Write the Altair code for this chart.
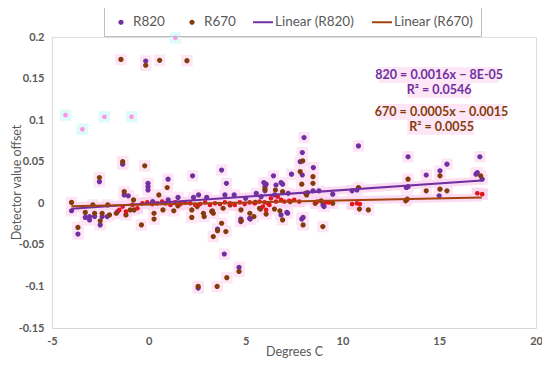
import altair as alt
import pandas as pd

# ---------------- data ----------------
r820_x = [-0.16, 8.02, 7.93, 7.82, 8.5, 7.37, 7.93, 8.48, 10.83, 6.44, 6.83, 6.91, 6.57, 6.06,
          8.79, 10.5, 10.75, 7.9, 7.97, 7.13, 9.0, 9.05,
          13.39, 17.1, 15.4, 15.04, 14.33, 16.97, 16.9, 17.22, 13.3, 13.39, 15.0,
          0.995, 2.26, 3.76, 4.01, 1.51, 2.31, 2.57, 2.99, 3.93, 4.41, 5.55, 5.94, 6.0, 6.0,
          5.24, 3.55, 3.9, 4.66, 2.55,
          -1.35, -2.55, -0.04, -0.04, -0.04, -1.27, -1.06, -3.99, -3.28, -3.06, -3.06, -2.8,
          -2.51, -2.41, -2.15, -1.61, -3.66,
          0.2, 1.0, 5.0, 5.8, 6.5, 7.2, 8.2, 9.5, 5.21, 4.75, 4.75, 7.17, 6.83]
r820_y = [0.171, 0.079, 0.061, 0.050, 0.043, 0.035, 0.034, 0.015, 0.069, 0.033, 0.025, 0.023, 0.022, 0.023,
          0.015, 0.015, 0.016, -0.019, -0.017, -0.011, -0.002, -0.004,
          0.056, 0.056, 0.047, 0.039, 0.034, 0.037, 0.035, 0.029, 0.019, 0.020, 0.009,
          0.029, 0.033, 0.040, 0.024, 0.007, 0.007, 0.010, 0.007, 0.010, 0.010, 0.012, 0.025, 0.020, 0.015,
          -0.019, -0.031, -0.061, -0.077, -0.102,
          0.047, 0.026, 0.024, 0.020, 0.016, 0.010, 0.009, -0.009, -0.017, -0.016, -0.020, -0.016,
          -0.026, -0.016, -0.016, -0.010, -0.037,
          0.002, 0.004, 0.006, 0.008, 0.010, 0.012, 0.013, 0.011, -0.018, -0.019, -0.022, -0.012, -0.014]

r670_x = [-1.44, -0.16, 0.56, 1.97,
          7.95, 7.82, 7.9, 8.48, 8.48, 10.83, 6.54, 6.91, 10.88, 11.34, 7.97, 8.99, 6.91, 6.77, 6.06,
          8.1, 8.15, 8.6, 9.5,
          15.04, 13.39, 17.14, 14.33, 15.04, 15.4, 13.27, 13.35,
          0.95, 0.52, 0.73, 1.29, 2.22, 2.22, 2.82, 2.86, 3.28, 3.84, 4.76, 4.78, 5.22, 5.43, 5.72,
          3.76, 3.55, 3.98, 3.33, 4.66, 2.55, 3.53, 4.03,
          -1.35, -0.21, -2.55, -1.27, -0.79, -3.99, -2.89, -2.12, -3.28, -2.8, -2.51, -2.41, -2.03,
          -1.68, -1.18, -3.66, -0.38, 0.27, 0.27, -0.76, -0.96,
          1.63, 3.25, 3.33, 5.77, 6.49, 6.0, 1.5, 2.5, 4.2, 5.5, 7.3, 8.9]
r670_y = [0.173, 0.166, 0.172, 0.1715,
          0.051, 0.038, 0.023, 0.032, 0.024, 0.019, 0.016, 0.014, -0.007, -0.008, -0.026, -0.028, -0.020, -0.009, -0.013,
          0.012, 0.010, 0.0, 0.0,
          0.033, 0.029, 0.033, 0.015, 0.017, 0.015, 0.003, 0.005,
          0.019, 0.010, -0.008, -0.009, -0.008, -0.017, -0.012, -0.016, -0.009, -0.006, -0.008, -0.021, -0.012, -0.016, -0.006,
          -0.024, -0.033, -0.034, -0.040, -0.082, -0.100, -0.100, -0.0895,
          0.050, 0.045, 0.031, 0.014, 0.004, 0.001, -0.002, -0.002, -0.011, -0.012, -0.021, -0.012, -0.014,
          -0.012, -0.014, -0.029, -0.026, -0.012, -0.019, -0.008, -0.008,
          0.0, -0.010, -0.012, -0.007, -0.007, 0.017, -0.003, -0.004, -0.002, 0.001, 0.002, 0.003]

# bright red markers crowded along the R670 trendline
red_x = [0.69, 0.86, 1.12, 1.37, 1.63, 1.89, 2.14, 2.4, 2.65, 2.91, 3.16, 3.42, 3.68, 3.93, 4.19,
         4.44, 4.7, 4.95, 5.21, 5.47, 5.72, 5.98,
         -1.52, -1.35, -1.18, -0.84, -0.59, -0.33, -0.08, 0.18, 0.43,
         6.15, 6.31, 6.57, 6.83, 7.0, 7.25, 7.51, 7.77, 5.89, 6.06, 6.23, 6.66, 8.7, 9.13, 9.3,
         10.5, 10.75, 10.9, 16.97, 17.22]
red_y = [0.002, 0.0, -0.002, 0.001, -0.001, 0.001, 0.0, -0.002, -0.001, 0.001, -0.002, 0.0, -0.001, 0.001, 0.0,
         -0.002, 0.001, -0.001, 0.001, 0.0, 0.002, 0.001,
         -0.008, -0.004, -0.010, -0.002, -0.006, 0.0, 0.001, -0.001, 0.0,
         0.0, 0.006, 0.002, 0.004, 0.002, 0.003, 0.004, 0.002, -0.004, -0.008, -0.002, 0.008, 0.002, 0.001, 0.001,
         -0.001, 0.0, -0.001, 0.012, 0.011]

# faint pink ghost markers
ghost_x = [-4.3, -2.29, -0.89, -3.43, 1.37]
ghost_y = [0.106, 0.104, 0.104, 0.089, 0.199]

# trendlines (from the printed equations)
trend_names = ["Linear (R820)", "Linear (R670)"]
trend_slope = [0.0016, 0.0005]
trend_icpt = [-0.00008, -0.0015]
trend_xrange = [-4.0, 17.2]

eq_text = ["820 = 0.0016x − 8E-05", "R² = 0.0546", "670 = 0.0005x − 0.0015", "R² = 0.0055"]
eq_x = [15.0, 15.0, 15.12, 15.12]
eq_y = [0.1543, 0.1363, 0.110, 0.092]
eq_color = ["#7030A0", "#7030A0", "#843C0C", "#843C0C"]
eq_x1 = [11.9, 13.35, 11.85, 13.35]
eq_x2 = [18.05, 16.65, 18.35, 16.8]

series_names = ["R820", "R670", "Linear (R820)", "Linear (R670)"]
series_colors = ["#7030A0", "#843C0C", "#7030A0", "#A3440F"]

# ---------------- build tables ----------------
pts = pd.DataFrame({
    "x": r820_x + r670_x,
    "y": r820_y + r670_y,
    "series": ["R820"] * len(r820_x) + ["R670"] * len(r670_x),
})
red = pd.DataFrame({"x": red_x, "y": red_y})
ghost = pd.DataFrame({"x": ghost_x, "y": ghost_y})
trend_rows = []
for n, s, b in zip(trend_names, trend_slope, trend_icpt):
    for xv in trend_xrange:
        trend_rows.append({"x": xv, "y": s * xv + b, "series": n})
trend = pd.DataFrame(trend_rows)
eq = pd.DataFrame({"x": eq_x, "y": eq_y, "t": eq_text, "c": eq_color, "x1": eq_x1, "x2": eq_x2,
                   "y1": [v + 0.0095 for v in eq_y], "y2": [v - 0.0095 for v in eq_y]})

minus_fix = "replace(format(datum.value, '.2~f'), '\u2212', '-')"

xs = alt.Scale(domain=[-5, 20], nice=False)
ys = alt.Scale(domain=[-0.15, 0.2], nice=False)

X = alt.X("x:Q", scale=xs, axis=alt.Axis(
    title="Degrees C", values=[-5, 0, 5, 10, 15, 20], labelExpr=minus_fix, labelFlush=False,
    grid=False, ticks=False, domainColor="#d9d9d9", labelColor="#595959",
    labelFont="Lato", labelFontSize=11, labelFontWeight="bold", labelPadding=7,
    titleFont="Lato", titleFontSize=12.5, titleFontWeight="normal", titleColor="#595959",
    titleY=23, titleBaseline="middle"))
Y = alt.Y("y:Q", scale=ys, axis=alt.Axis(
    title="Detector value offset", values=[-0.15, -0.1, -0.05, 0, 0.05, 0.1, 0.15, 0.2],
    labelExpr=minus_fix, grid=False, ticks=False, domainColor="#d9d9d9", labelColor="#595959",
    labelFont="Lato", labelFontSize=11, labelFontWeight="bold", labelPadding=8,
    titleFont="Lato", titleFontSize=12.5, titleFontWeight="normal", titleColor="#595959",
    titleX=-36, titleY=145, titleAngle=-90, titleAlign="center", titleBaseline="middle"))

circle_path = "M-0.26,0A0.26,0.26 0 1,0 0.26,0A0.26,0.26 0 1,0 -0.26,0Z"
line_path = "M-1,-0.1H1V0.1H-1Z"

color = alt.Color("series:N", scale=alt.Scale(domain=series_names, range=series_colors),
                  legend=alt.Legend(
                      title=None, orient="none", legendX=52, legendY=-32, direction="horizontal",
                      columns=4, columnPadding=17, symbolSize=400, labelOffset=2,
                      labelFont="Lato", labelFontSize=13.5, labelColor="#595959",
                      strokeColor="#bfbfbf", padding=7, symbolStrokeWidth=0))
shape = alt.Shape("series:N", scale=alt.Scale(domain=series_names,
                                               range=[circle_path, circle_path, line_path, line_path]))

halo = alt.Chart(pts).mark_square(size=130, color="#fde5f6", opacity=1).encode(x=X, y=Y)
halo_red = alt.Chart(red).mark_square(size=130, color="#fbd6f1", opacity=1).encode(x=X, y=Y)
ghost_halo = alt.Chart(ghost).mark_square(size=130, color="#defbfb", opacity=1).encode(x=X, y=Y)
ghost_pts = alt.Chart(ghost).mark_circle(size=22, color="#ff95e2", opacity=1).encode(x=X, y=Y)

glow = alt.Chart(trend).mark_line(strokeWidth=8, color="#fbd8f2", opacity=0.9).encode(
    x=X, y=Y, detail="series:N")

points = alt.Chart(pts).mark_point(filled=True, size=400, opacity=1).encode(
    x=X, y=Y, color=color, shape=shape)
redpts = alt.Chart(red).mark_circle(size=22, color="#E3151C", opacity=1).encode(x=X, y=Y)

lines = alt.Chart(trend).mark_line(strokeWidth=2).encode(x=X, y=Y, color=color)

eq_bg = alt.Chart(eq).mark_rect(color="#fde6f6", opacity=1).encode(
    x="x1:Q", x2="x2:Q", y="y1:Q", y2="y2:Q")
eq_txt = alt.Chart(eq).mark_text(font="Lato", fontSize=12.5, fontWeight="bold",
                                 align="center", baseline="middle").encode(
    x=X, y=Y, text="t:N", color=alt.Color("c:N", scale=None))

chart = alt.layer(halo, halo_red, ghost_halo, glow, points, redpts, ghost_pts, lines, eq_bg, eq_txt).properties(
    width=484, height=291,
    padding={"left": 44, "top": 29, "right": 6, "bottom": 34},
    autosize=alt.AutoSizeParams(type="none"),
).configure_view(stroke=None).configure(background="white")

chart.save("out.html", embed_options={"renderer": "svg", "actions": False})
